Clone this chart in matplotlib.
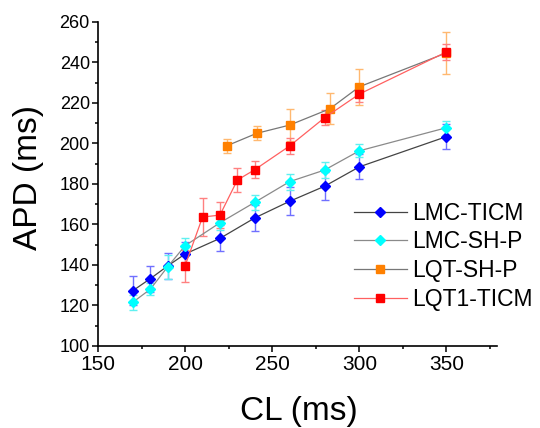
import matplotlib
matplotlib.use("Agg")
import matplotlib.pyplot as plt
from matplotlib.ticker import MultipleLocator

plt.rcParams['font.family'] = ['Liberation Sans', 'DejaVu Sans']

# ---- data ----
lmc_ticm_x = [170, 180, 190, 200, 220, 240, 260, 280, 300, 350]
lmc_ticm_y = [127.3, 133.2, 139.5, 145.4, 153.1, 163.2, 171.4, 178.8, 188.4, 203.3]
lmc_ticm_e = [7.0, 6.5, 6.5, 6.0, 6.4, 6.4, 6.8, 6.9, 6.2, 6.3]

lmc_shp_x = [170, 180, 190, 200, 220, 240, 260, 280, 300, 350]
lmc_shp_y = [121.6, 128.0, 139.1, 149.5, 160.8, 170.9, 181.1, 186.8, 196.3, 207.7]
lmc_shp_e = [3.8, 3.0, 6.0, 3.9, 3.5, 3.7, 4.0, 3.8, 3.2, 3.4]

lqt_shp_x = [224, 241, 260, 283, 300, 350]
lqt_shp_y = [198.8, 204.9, 209.0, 217.0, 227.9, 244.6]
lqt_shp_e = [3.5, 3.5, 7.8, 7.6, 8.8, 10.5]

lqt1_ticm_x = [200, 210, 220, 230, 240, 260, 280, 300, 350]
lqt1_ticm_y = [139.6, 163.6, 164.6, 181.9, 187.0, 198.7, 212.6, 224.3, 245.1]
lqt1_ticm_e = [8.0, 9.5, 6.6, 6.1, 4.3, 4.1, 3.6, 4.0, 4.0]

labels = ['LMC-TICM', 'LMC-SH-P', 'LQT-SH-P', 'LQT1-TICM']
x_ticks = [150, 200, 250, 300, 350]
y_ticks = [100, 120, 140, 160, 180, 200, 220, 240, 260]

W, H = 540, 428
fig = plt.figure(figsize=(W / 100, H / 100), dpi=100)
ax = fig.add_axes([98 / W, 1 - 346 / H, (497 - 98) / W, (346 - 21.7) / H])

series = [
    (lmc_ticm_x, lmc_ticm_y, lmc_ticm_e, 'D', '#0000ff', '#444444', '#7070ff', 4.9),
    (lmc_shp_x, lmc_shp_y, lmc_shp_e, 'D', '#00ffff', '#8a8a8a', '#60f0f0', 4.9),
    (lqt_shp_x, lqt_shp_y, lqt_shp_e, 's', '#ff8000', '#777777', '#ffb870', 6.3),
    (lqt1_ticm_x, lqt1_ticm_y, lqt1_ticm_e, 's', '#ff0000', '#ff6060', '#ff8080', 6.3),
]

handles = []
for (x, y, e, m, fc, lc, ec, ms), lab in zip(series, labels):
    ax.errorbar(x, y, yerr=e, fmt='none', ecolor=ec, elinewidth=1.0,
                capsize=3.1, capthick=1.0, zorder=2)
    h, = ax.plot(x, y, color=lc, lw=0.9, marker=m, markersize=ms,
                 markerfacecolor=fc, markeredgecolor=fc, zorder=3, label=lab)
    handles.append(h)

ax.set_xlim(150, 379)
ax.set_ylim(100, 260)
ax.set_xticks(x_ticks)
ax.set_yticks(y_ticks)
ax.xaxis.set_minor_locator(MultipleLocator(25))
ax.yaxis.set_minor_locator(MultipleLocator(10))
ax.tick_params(which='major', direction='out', length=4.3, width=1.1)
ax.tick_params(which='minor', direction='out', length=2.2, width=1.1)
ax.tick_params(axis='x', labelsize=15, pad=2.5)
ax.tick_params(axis='y', labelsize=13, pad=1.6)
for s in ['top', 'right']:
    ax.spines[s].set_visible(False)
for s in ['left', 'bottom']:
    ax.spines[s].set_linewidth(1.2)

fig.text(28 / W, 1 - 177.5 / H, 'APD (ms)', rotation=90, ha='center', va='center', fontsize=24)
fig.text(299 / W, 1 - 411.7 / H, 'CL (ms)', ha='center', va='center', fontsize=24)

leg = ax.legend(handles=handles, loc='center left',
                bbox_to_anchor=(354 / W, 1 - 256.3 / H), bbox_transform=fig.transFigure,
                frameon=False, fontsize=16.5, handlelength=2.3, handletextpad=0.22,
                labelspacing=0.25, borderpad=0, borderaxespad=0)

fig.savefig('out.png', dpi=100)
